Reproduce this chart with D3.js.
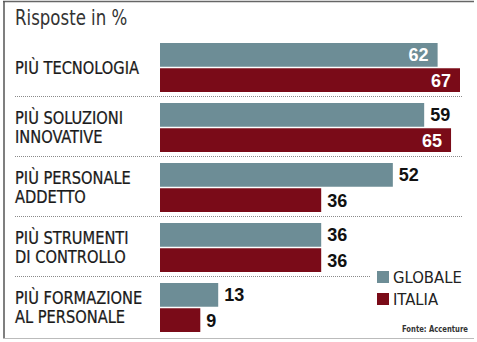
<!DOCTYPE html>
<html>
<head>
<meta charset="utf-8">
<script src="https://cdn.jsdelivr.net/npm/d3@7"></script>
<style>
  html, body { margin: 0; padding: 0; background: #fff; }
  svg { display: block; }
</style>
</head>
<body>
<svg id="chart" width="477" height="342"></svg>
<script>
// Survey answers, percent
const categories = ["PIÙ TECNOLOGIA", "PIÙ SOLUZIONI\nINNOVATIVE", "PIÙ PERSONALE\nADDETTO", "PIÙ STRUMENTI\nDI CONTROLLO", "PIÙ FORMAZIONE\nAL PERSONALE"];
const seriesNames = ["GLOBALE", "ITALIA"];
const globale = [62, 59, 52, 36, 13];
const italia = [67, 65, 36, 36, 9];
const title = "Risposte in %";
const source = "Fonte: Accenture";

const colors = { GLOBALE: "#6d8d96", ITALIA: "#7a0b18" };
const narrow = "'Liberation Sans Narrow', 'Arial Narrow', 'DejaVu Sans Condensed', sans-serif";
const bold = "'Liberation Sans', Arial, sans-serif";

const svg = d3.select("#chart");
const rows = categories.map((c, i) => ({ cat: c, values: { GLOBALE: globale[i], ITALIA: italia[i] } }));

const x = d3.scaleLinear().domain([0, 67]).range([160, 460]);
const y = d3.scaleBand().domain(categories).range([37, 337]).paddingInner(0);
const ySub = d3.scaleBand().domain(seriesNames).range([6, 55]).paddingInner(0.06);

// frame
svg.append("line").attr("x1", 3).attr("x2", 474).attr("y1", 1.5).attr("y2", 1.5)
  .attr("stroke", "#666").attr("stroke-width", 1.5);
svg.append("line").attr("x1", 4).attr("x2", 4).attr("y1", 1).attr("y2", 338)
  .attr("stroke", "#555").attr("stroke-width", 1.5);
svg.append("line").attr("x1", 3).attr("x2", 474).attr("y1", 338.5).attr("y2", 338.5)
  .attr("stroke", "#bbb").attr("stroke-width", 1);

// condensed text: squeeze horizontally around a left anchor
const squeeze = 0.93;

// title
svg.append("g").attr("transform", `translate(15,25) scale(0.9,1)`)
  .append("text").attr("x", 0).attr("y", 0)
  .attr("font-family", narrow).attr("font-size", 20.5).attr("fill", "#333")
  .text(title);

const g = svg.append("g");
const groups = g.selectAll("g.row").data(rows).join("g")
  .attr("class", "row")
  .attr("transform", d => `translate(0,${y(d.cat)})`);

// dotted separators between groups
groups.filter((d, i) => i < rows.length - 1)
  .append("line")
  .attr("x1", 15)
  .attr("x2", (d, i) => i === rows.length - 2 ? 370 : 463)
  .attr("y1", y.bandwidth() - 0.5).attr("y2", y.bandwidth() - 0.5)
  .attr("stroke", "#8a8a8a").attr("stroke-width", 1)
  .attr("stroke-dasharray", "1,1");

// category labels
groups.each(function(d) {
  const lines = d.cat.split("\n");
  const cy = (ySub("GLOBALE") + ySub("ITALIA") + ySub.bandwidth()) / 2;
  const lh = 19;
  const first = cy + 6.5 - (lines.length - 1) * lh / 2;
  const lg = d3.select(this).append("g")
    .attr("transform", `translate(15,0) scale(${squeeze},1)`);
  lines.forEach((ln, k) => {
    lg.append("text").attr("x", 0).attr("y", first + k * lh)
      .attr("font-family", narrow).attr("font-size", 17.5).attr("fill", "#1a1a1a")
      .attr("stroke", "#1a1a1a").attr("stroke-width", 0.25)
      .text(ln);
  });
});

// bars and value labels
groups.each(function(d) {
  const gg = d3.select(this);
  seriesNames.forEach(s => {
    const v = d.values[s];
    gg.append("rect")
      .attr("x", x(0)).attr("y", ySub(s))
      .attr("width", x(v) - x(0)).attr("height", ySub.bandwidth())
      .attr("fill", colors[s]);
    const inside = v > 60;
    gg.append("text")
      .attr("x", inside ? x(v) - 9 : x(v) + 6)
      .attr("y", ySub(s) + ySub.bandwidth() / 2 + 6.5)
      .attr("text-anchor", inside ? "end" : "start")
      .attr("font-family", bold).attr("font-weight", "bold").attr("font-size", 18)
      .attr("fill", inside ? "#fff" : "#111")
      .text(v);
  });
});

// legend
const legend = svg.append("g").attr("transform", "translate(377,271)");
seriesNames.forEach((s, i) => {
  legend.append("rect").attr("x", 0).attr("y", i * 22).attr("width", 12).attr("height", 12)
    .attr("fill", colors[s]);
  legend.append("text").attr("x", 16).attr("y", i * 22 + 12)
    .attr("font-family", narrow).attr("font-size", 16.5).attr("fill", "#222")
    .text(s);
});

// source note
svg.append("g").attr("transform", "translate(402,332) scale(0.8,1)")
  .append("text").attr("x", 0).attr("y", 0)
  .attr("font-family", narrow).attr("font-weight", "bold").attr("font-size", 9.5).attr("fill", "#333")
  .text(source);
</script>
</body>
</html>
